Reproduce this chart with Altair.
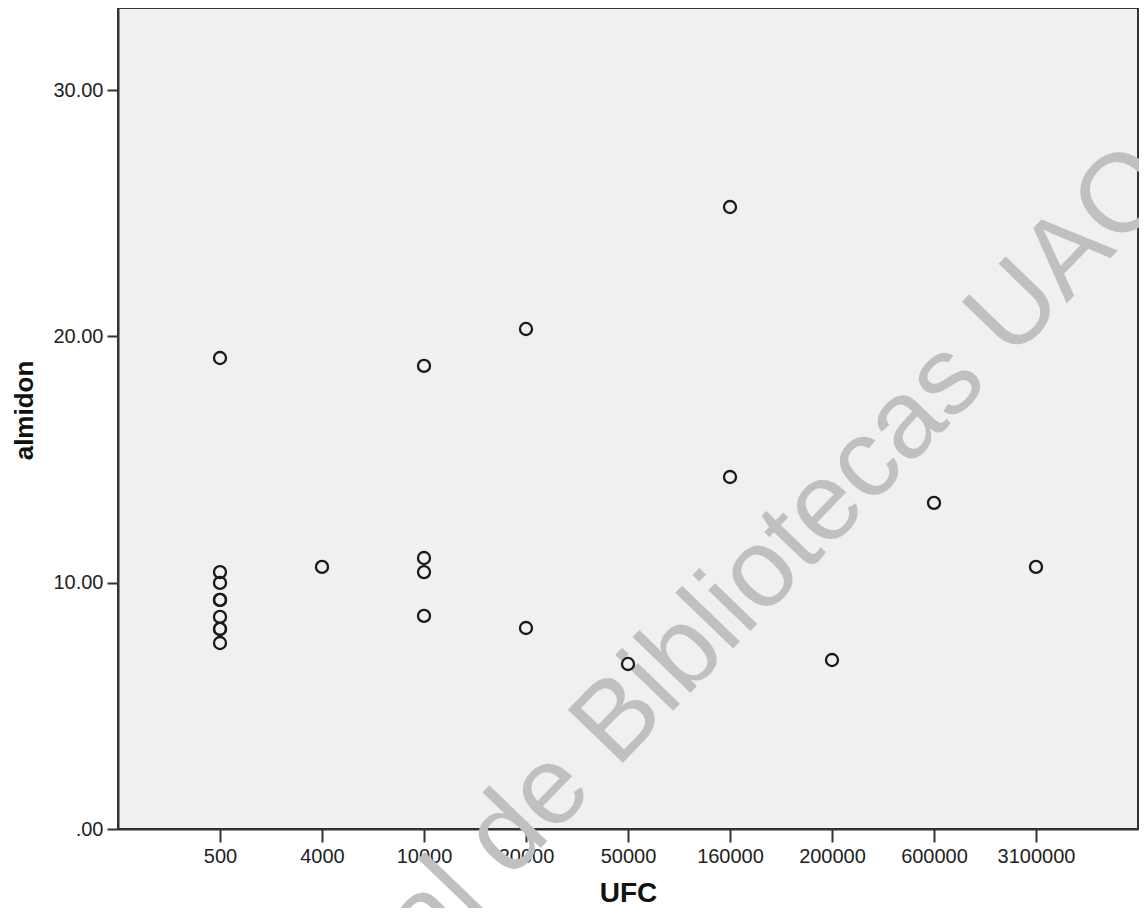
import altair as alt
import pandas as pd

# Data (UFC category, almidon value)
ufc_order = ["500", "4000", "10000", "20000", "50000", "160000", "200000", "600000", "3100000"]

ufc = ["500", "500", "500", "500", "500", "500", "500", "500", "500",
       "4000",
       "10000", "10000", "10000", "10000",
       "20000", "20000",
       "50000",
       "160000", "160000",
       "200000",
       "600000",
       "3100000"]
almidon = [19.12, 10.43, 9.99, 9.30, 9.30, 8.61, 8.12, 8.12, 7.55,
           10.64,
           18.80, 11.00, 10.43, 8.65,
           20.30, 8.16,
           6.70,
           25.25, 14.29,
           6.86,
           13.24,
           10.64]

watermark = ["Dirección General de Bibliotecas UAQ"]

df = pd.DataFrame({"UFC": ufc, "almidon": almidon})
wm = pd.DataFrame({"t": watermark})

FONT = "Liberation Sans, Arial"
PLOT_W = 1020
PLOT_H = 821

x_enc = alt.X(
    "UFC:N",
    sort=ufc_order,
    scale=alt.Scale(type="point", padding=1, domain=ufc_order),
    axis=alt.Axis(
        title="UFC",
        labelAngle=0,
        labelFont=FONT,
        labelFontSize=20,
        labelColor="#222222",
        labelPadding=4,
        tickSize=13,
        tickColor="#333333",
        tickWidth=2,
        domainColor="#333333",
        domainWidth=2,
        titleFont=FONT,
        titleFontSize=28,
        titleFontWeight="bold",
        titleColor="#111111",
        titleX=PLOT_W / 2,
        titleY=72,
        titleAlign="center",
        titleBaseline="alphabetic",
        grid=False,
    ),
)

y_enc = alt.Y(
    "almidon:Q",
    scale=alt.Scale(domain=[0, 33.33], nice=False, zero=True),
    axis=alt.Axis(
        title="almidon",
        values=[0, 10, 20, 30],
        labelExpr="datum.value == 0 ? '.00' : format(datum.value, '.2f')",
        labelFont=FONT,
        labelFontSize=20,
        labelColor="#222222",
        labelPadding=4,
        tickSize=11,
        tickColor="#333333",
        tickWidth=2,
        domainColor="#333333",
        domainWidth=2,
        titleFont=FONT,
        titleFontSize=26,
        titleFontWeight="bold",
        titleColor="#111111",
        titleAngle=270,
        titleX=-86,
        titleY=402,
        titleAlign="center",
        titleBaseline="alphabetic",
        grid=False,
    ),
)

points = alt.Chart(df).mark_point(
    shape="circle", filled=False, size=145, strokeWidth=2.3, color="#1a1a1a", opacity=1
).encode(x=x_enc, y=y_enc)

mark_wm = alt.Chart(wm).mark_text(
    font="Liberation Sans, Arial",
    fontSize=111,
    color="#c0c0c0",
    align="right",
    baseline="alphabetic",
    angle=314,
).encode(text="t:N", x=alt.value(1060), y=alt.value(180))

chart = (
    alt.layer(mark_wm, points)
    .properties(
        width=PLOT_W,
        height=PLOT_H,
        padding={"left": 110, "top": 0, "right": 1, "bottom": 79},
        autosize=alt.AutoSizeParams(type="none"),
        background="white",
    )
    .configure_view(fill="#F0F0F0", stroke="#333333", strokeWidth=2)
)

chart.save("out.html", embed_options={"renderer": "svg", "actions": False})
